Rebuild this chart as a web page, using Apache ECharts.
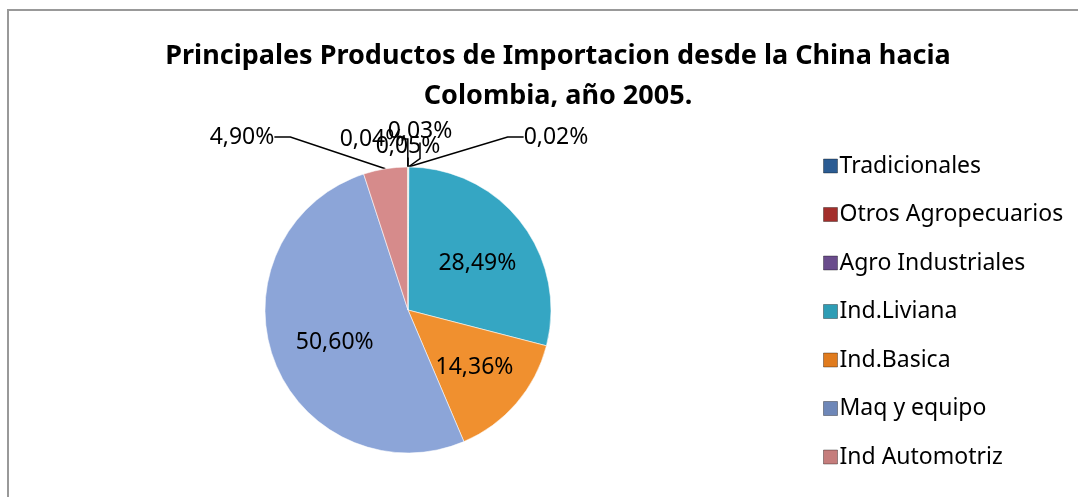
<!DOCTYPE html>
<html>
<head>
<meta charset="utf-8">
<script src="https://cdn.jsdelivr.net/npm/echarts@6/dist/echarts.min.js"></script>
<style>
html, body { margin: 0; padding: 0; background: #fff; }
#chart { width: 1078px; height: 497px; }
</style>
</head>
<body>
<div id="chart"></div>
<script>
var categories = ['Tradicionales', 'Otros Agropecuarios', 'Agro Industriales', 'Ind.Liviana', 'Ind.Basica', 'Maq y equipo', 'Ind Automotriz', 'Otros'];
var values = [0.02, 0.03, 0.05, 28.49, 14.36, 50.60, 4.90, 0.04];
var legendNames = categories.slice(0, 7);

var sliceColors = ['#2B5C93', '#A32E2B', '#6A4C8C', '#35A6C3', '#F0902F', '#8CA5D8', '#D68B8B', '#9BBB59'];
var legendColors = ['#2B5C93', '#A32E2B', '#6A4C8C', '#2E9DB5', '#E07B1E', '#6E87B8', '#C57D7C', '#9BBB59'];

// where the tiny slices put their text (label centre)
var smallLabelPos = {
    0: [556, 137],
    1: [420, 131],
    2: [408, 146],
    6: [242, 137],
    7: [372, 139]
};

var dom = document.getElementById('chart');
var myChart = echarts.init(dom);

var pieData = [];
for (var i = 0; i < categories.length; i++) {
    var big = values[i] > 10;
    pieData.push({
        name: categories[i],
        value: values[i],
        itemStyle: { color: sliceColors[i] },
        label: { position: big ? 'inside' : 'outside' },
        labelLine: { show: !big }
    });
}

var cx = 408, cy = 310;

var option = {
    animation: false,
    color: legendColors,
    textStyle: { fontFamily: 'Noto Sans' },
    title: {
        text: 'Principales Productos de Importacion desde la China hacia\nColombia, año 2005.',
        left: 553,
        textAlign: 'center',
        top: 31,
        textStyle: {
            fontFamily: 'Noto Sans',
            fontSize: 27,
            fontWeight: 'bold',
            color: '#000',
            lineHeight: 40
        }
    },
    legend: {
        orient: 'vertical',
        left: 818,
        top: 149,
        itemWidth: 14,
        itemHeight: 14,
        itemGap: 24.5,
        icon: 'rect',
        data: legendNames.map(function (n, k) {
            return { name: n, itemStyle: { color: legendColors[k], borderColor: 'rgba(0,0,0,0.35)', borderWidth: 1 } };
        }),
        textStyle: { fontSize: 23, color: '#000', lineHeight: 24, padding: [0, 0, 0, -3] }
    },
    graphic: [{
        type: 'rect',
        shape: { x: 8, y: 10, width: 1200, height: 600 },
        style: { fill: 'none', stroke: '#999', lineWidth: 2 },
        silent: true
    }],
    series: [{
        type: 'pie',
        center: [cx, cy],
        radius: 143,
        startAngle: 90,
        clockwise: true,
        avoidLabelOverlap: false,
        itemStyle: { borderColor: 'rgba(255,255,255,0.55)', borderWidth: 1 },
        label: {
            color: '#000',
            fontSize: 23,
            formatter: function (p) {
                return p.value.toFixed(2).replace('.', ',') + '%';
            }
        },
        labelLine: {
            length: 12,
            length2: 16,
            lineStyle: { color: '#000', width: 1.5 }
        },
        labelLayout: function (params) {
            var pos = smallLabelPos[params.dataIndex];
            if (pos) {
                return { x: pos[0], y: pos[1], align: 'center', verticalAlign: 'middle' };
            }
            // push the inside labels a little further out from the centre
            var r = params.labelRect;
            var mx = r.x + r.width / 2 - cx, my = r.y + r.height / 2 - cy;
            var d = Math.sqrt(mx * mx + my * my) || 1;
            return { dx: mx / d * 8 + 4, dy: my / d * 8 + 4 };
        },
        data: pieData
    }]
};
myChart.setOption(option, true);
</script>
</body>
</html>
